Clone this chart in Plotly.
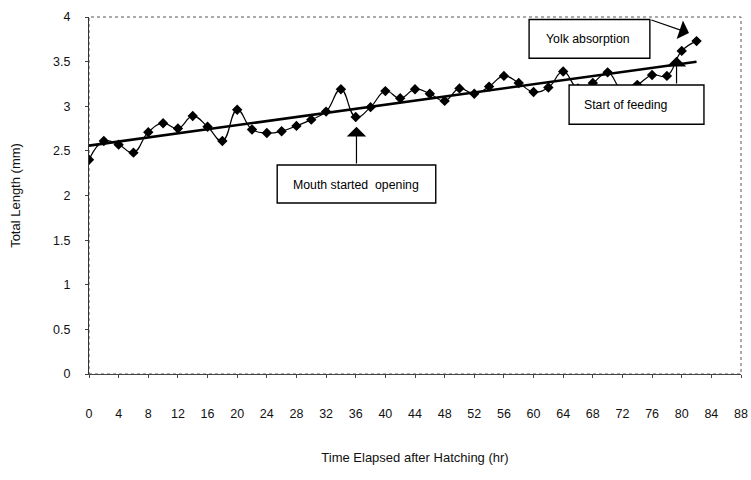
import numpy as np
import plotly.graph_objects as go

# ---- data ----
hours = [0, 2, 4, 6, 8, 10, 12, 14, 16, 18, 20, 22, 24, 26, 28, 30, 32, 34, 36, 38, 40,
         42, 44, 46, 48, 50, 52, 54, 56, 58, 60, 62, 64, 66, 68, 70, 72, 74, 76, 78, 80, 82]
length_mm = [2.40, 2.61, 2.57, 2.48, 2.71, 2.81, 2.75, 2.89, 2.77, 2.61, 2.96, 2.74, 2.70, 2.72,
             2.78, 2.85, 2.94, 3.19, 2.88, 2.99, 3.17, 3.09, 3.19, 3.14, 3.06, 3.20, 3.14, 3.22,
             3.34, 3.26, 3.16, 3.21, 3.39, 3.20, 3.26, 3.38, 3.18, 3.24, 3.35, 3.34, 3.62, 3.73]
x_ticks = list(range(0, 89, 4))
y_ticks = [0, 0.5, 1, 1.5, 2, 2.5, 3, 3.5, 4]
y_tick_labels = ["0", "0.5", "1", "1.5", "2", "2.5", "3", "3.5", "4"]

x_title = "Time Elapsed after Hatching (hr)"
y_title = "Total Length (mm)"

# linear trend
slope, intercept = np.polyfit(hours, length_mm, 1)
trend_x = [hours[0], hours[-1]]
trend_y = [intercept + slope * v for v in trend_x]

FONT = "Liberation Sans, Arial, sans-serif"

fig = go.Figure()
fig.add_trace(go.Scatter(
    x=hours, y=length_mm, mode="lines+markers",
    line=dict(color="black", width=1.2, shape="spline", smoothing=1.3),
    marker=dict(symbol="diamond", size=8, color="black"),
    showlegend=False, hoverinfo="skip"))
fig.add_trace(go.Scatter(
    x=trend_x, y=trend_y, mode="lines",
    line=dict(color="black", width=2.6),
    showlegend=False, hoverinfo="skip"))

# annotation boxes (data coords)
boxes = [
    dict(x0=25.4, x1=46.8, y0=1.916, y1=2.342),   # Mouth started opening
    dict(x0=59.4, x1=75.7, y0=3.537, y1=3.972),   # Yolk absorption
    dict(x0=64.8, x1=83.0, y0=2.798, y1=3.238),   # Start of feeding
]
shapes = []
for b in boxes:
    shapes.append(dict(type="rect", xref="x", yref="y", layer="above",
                       x0=b["x0"], x1=b["x1"], y0=b["y0"], y1=b["y1"],
                       line=dict(color="black", width=1.4), fillcolor="white"))
# plot border (dotted)
shapes.append(dict(type="rect", xref="paper", yref="paper", x0=0, x1=1, y0=0, y1=1,
                   line=dict(color="#555", width=1, dash="dot"), layer="below"))

ANN_SIZE = 12.3
annotations = [
    dict(x=36.0, y=2.12, xref="x", yref="y", text="Mouth started  opening",
         showarrow=False, font=dict(family=FONT, size=ANN_SIZE, color="black")),
    dict(x=67.4, y=3.755, xref="x", yref="y", text="Yolk absorption",
         showarrow=False, font=dict(family=FONT, size=ANN_SIZE, color="black")),
    dict(x=66.6, y=3.018, xref="x", yref="y", text="Start of feeding", xanchor="left",
         showarrow=False, font=dict(family=FONT, size=ANN_SIZE, color="black")),
    # arrows
    dict(x=36.1, y=2.77, ax=36.1, ay=2.342, xref="x", yref="y", axref="x", ayref="y",
         text="", showarrow=True, arrowhead=1, arrowsize=2.7, arrowwidth=1.2, arrowcolor="black"),
    dict(x=80.98, y=3.821, ax=75.7, ay=3.972, xref="x", yref="y", axref="x", ayref="y",
         text="", showarrow=True, arrowhead=1, arrowsize=2.7, arrowwidth=1.2, arrowcolor="black"),
    dict(x=79.3, y=3.555, ax=79.3, ay=3.238, xref="x", yref="y", axref="x", ayref="y",
         text="", showarrow=True, arrowhead=1, arrowsize=2.7, arrowwidth=1.2, arrowcolor="black"),
]

fig.update_layout(
    width=751, height=480,
    margin=dict(l=89, r=10, t=17, b=106, autoexpand=False),
    paper_bgcolor="white", plot_bgcolor="white",
    font=dict(family=FONT, size=12.5, color="#111"),
    shapes=shapes, annotations=annotations,
    xaxis=dict(range=[0, 88], tickvals=x_ticks, ticktext=[str(v) for v in x_ticks],
               showgrid=False, zeroline=False, showline=True, linecolor="#444", linewidth=1,
               ticks="outside", ticklen=3, tickcolor="#444", ticklabelstandoff=25,
               tickfont=dict(family=FONT, size=12.5, color="#111"),
               title=dict(text=x_title, standoff=32, font=dict(family=FONT, size=13, color="#111")),
               automargin=False),
    yaxis=dict(range=[0, 4], tickvals=y_ticks, ticktext=y_tick_labels,
               showgrid=False, zeroline=False, showline=True, linecolor="#333", linewidth=1,
               ticks="outside", ticklen=3, tickcolor="#444", ticklabelstandoff=12,
               tickfont=dict(family=FONT, size=12.5, color="#111"),
               title=dict(text=y_title, standoff=29, font=dict(family=FONT, size=13, color="#111")),
               automargin=False),
)

fig.write_html("out.html", config={"displayModeBar": False, "staticPlot": True},
               post_script="document.body.style.margin='0px';document.body.style.overflow='hidden';")
